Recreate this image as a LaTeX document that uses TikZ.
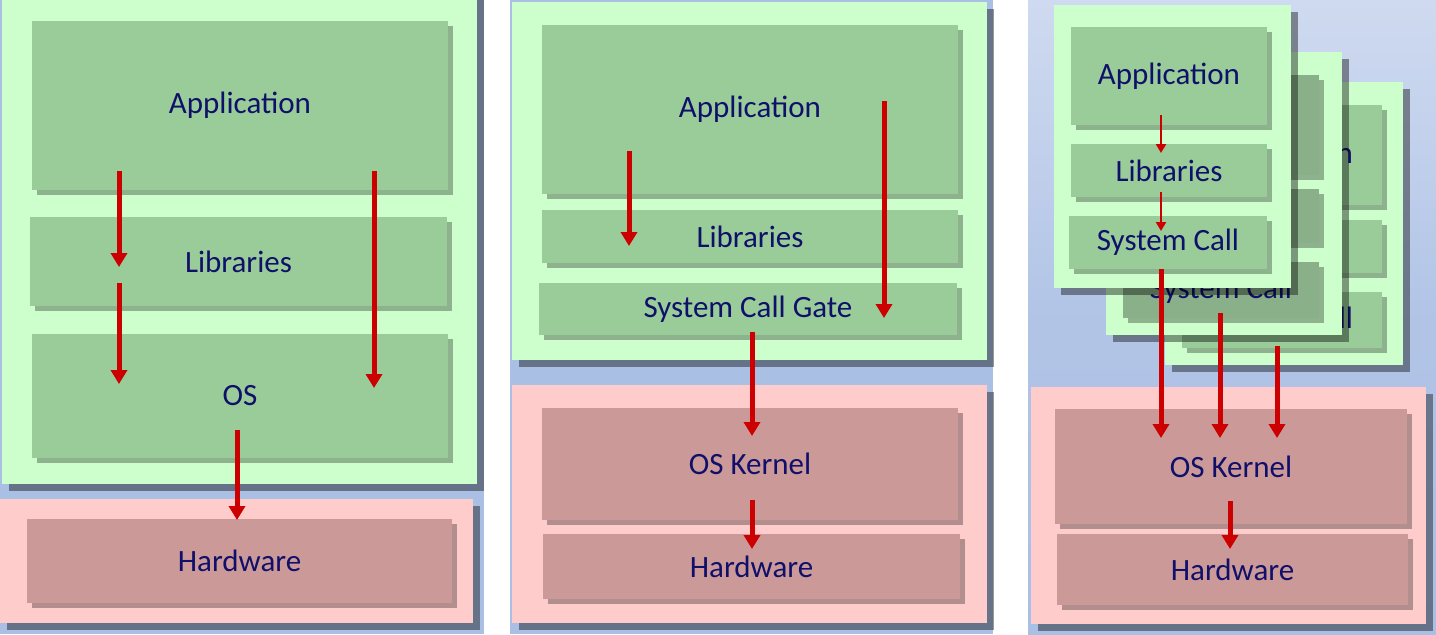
\documentclass[tikz,border=0pt]{standalone}
\usepackage{fontspec}
\setmainfont{Carlito}
\usetikzlibrary{positioning,fit,shadows,arrows.meta}

\definecolor{bgblue}{HTML}{AABFE4}
\definecolor{bgtop}{HTML}{CFDAF0}
\definecolor{appgreen}{HTML}{CCFFCC}
\definecolor{layergreen}{HTML}{99CC99}
\definecolor{dimgreen}{HTML}{89B089}
\definecolor{hwpink}{HTML}{FFCCCC}
\definecolor{layerpink}{HTML}{CC9999}
\definecolor{navy}{HTML}{10106A}
\definecolor{callred}{HTML}{CC0000}

\tikzset{
  outer/.style={inner sep=0pt, outer sep=0pt,
    drop shadow={shadow xshift=3.5pt, shadow yshift=-3.5pt, fill=black, opacity=0.4}},
  userspace/.style={outer, fill=appgreen},
  hwspace/.style={outer, fill=hwpink},
  layer/.style={inner sep=0pt, outer sep=0pt, fill=layergreen,
    drop shadow={shadow xshift=2.5pt, shadow yshift=-2.5pt, fill=black, opacity=0.3}},
  dimlayer/.style={layer, fill=dimgreen},
  hwlayer/.style={layer, fill=layerpink},
  lbl/.style={text=navy, inner sep=0pt, font=\fontsize{15.5}{18}\selectfont},
  call/.style={callred, line width=2.5pt, -{Triangle[width=8pt,length=7pt]}},
  smallcall/.style={callred, line width=1.2pt, -{Triangle[width=5pt,length=4.5pt]}}
}

\begin{document}
\begin{tikzpicture}[x=0.5pt,y=-0.5pt]
\path[use as bounding box] (0,0) rectangle (1436,634);
\clip (0,0) rectangle (1436,634);
\fill[white] (0,0) rectangle (1436,634);

% screens
\fill[bgblue] (0,0) rectangle (484,634);
\fill[bgblue] (510,0) rectangle (993,634);
\shade[top color=bgtop, bottom color=bgblue, middle color=bgblue!80!bgtop] (1028,0) rectangle (1436,634);

% left: library OS
\node[userspace, fit={(2,-10) (477,484)}] (user1) {};
\node[layer, fit={(32,21) (448,190)}, label={[lbl]center:Application}] (app1) {};
\node[layer, fit={(30,217) (447,306)}, label={[lbl]center:Libraries}] (lib1) {};
\node[layer, fit={(32,334) (448,458)}, label={[lbl]center:OS}] (os1) {};
\node[hwspace, fit={(0,499) (473,623)}] (hwbox1) {};
\node[hwlayer, fit={(27,519) (452,603)}, label={[lbl]center:Hardware}] (hw1) {};

\coordinate (a1s) at (119,171);
\coordinate (a1e) at (119,267);
\coordinate (b1s) at (119,283);
\coordinate (b1e) at (119,384);
\coordinate (c1s) at (374,171);
\coordinate (c1e) at (374,388);
\coordinate (d1s) at (237,430);
\coordinate (d1e) at (237,520);
\draw[call] (a1s) -- (a1e);
\draw[call] (b1s) -- (b1e);
\draw[call] (c1s) -- (c1e);
\draw[call] (d1s) -- (d1e);

% middle: kernel with call gate
\node[userspace, fit={(512,2) (987,360)}] (user2) {};
\node[layer, fit={(542,25) (958,194)}, label={[lbl]center:Application}] (app2) {};
\node[layer, fit={(542,210) (958,263)}, label={[lbl]center:Libraries}] (lib2) {};
\node[layer, fit={(539,283) (957,335)}, label={[lbl]center:System Call Gate}] (gate2) {};
\node[hwspace, fit={(512,385) (987,623)}] (hwbox2) {};
\node[hwlayer, fit={(542,408) (958,520)}, label={[lbl]center:OS Kernel}] (kern2) {};
\node[hwlayer, fit={(543,534) (960,599)}, label={[lbl]center:Hardware}] (hw2) {};

\coordinate (a2s) at (629,151);
\coordinate (a2e) at (629,246);
\coordinate (b2s) at (884,101);
\coordinate (b2e) at (884,318);
\coordinate (c2s) at (752,332);
\coordinate (c2e) at (752,436);
\coordinate (d2s) at (752,500);
\coordinate (d2e) at (752,549);
\draw[call] (a2s) -- (a2e);
\draw[call] (b2s) -- (b2e);
\draw[call] (c2s) -- (c2e);
\draw[call] (d2s) -- (d2e);

% right: several processes
\node[userspace, fit={(1165,82) (1403,365)}] (user3c) {};
\node[layer, fit={(1182,105) (1382,205)}, label={[lbl]center:Application}] (app3c) {};
\node[layer, fit={(1182,220) (1382,273)}] (lib3c) {};
\node[layer, fit={(1182,292) (1382,348)}, label={[lbl]center:System Call}] (sys3c) {};

\node[userspace, fit={(1106,52) (1342,335)}] (user3b) {};
\node[dimlayer, fit={(1123,75) (1319,175)}] (app3b) {};
\node[dimlayer, fit={(1123,189) (1319,243)}] (lib3b) {};
\node[dimlayer, fit={(1123,262) (1319,318)}, label={[lbl]center:System Call}] (sys3b) {};

\node[userspace, fit={(1054,5) (1291,288)}] (user3a) {};
\node[layer, fit={(1071,27) (1267,125)}, label={[lbl]center:Application}] (app3a) {};
\node[layer, fit={(1071,144) (1267,197)}, label={[lbl]center:Libraries}] (lib3a) {};
\node[layer, fit={(1069,216) (1267,269)}, label={[lbl]center:System Call}] (sys3a) {};

\node[hwspace, fit={(1031,387) (1426,624)}] (hwbox3) {};
\node[hwlayer, fit={(1055,409) (1407,524)}, label={[lbl]center:OS Kernel}] (kern3) {};
\node[hwlayer, fit={(1057,534) (1408,605)}, label={[lbl]center:Hardware}] (hw3) {};

\coordinate (a3s) at (1161,115);
\coordinate (a3e) at (1161,153);
\coordinate (b3s) at (1161,192);
\coordinate (b3e) at (1161,231);
\coordinate (c3s) at (1161,269);
\coordinate (c3e) at (1161,438);
\coordinate (d3s) at (1220,313);
\coordinate (d3e) at (1220,438);
\coordinate (e3s) at (1277,346);
\coordinate (e3e) at (1277,438);
\coordinate (f3s) at (1230,501);
\coordinate (f3e) at (1230,549);
\draw[smallcall] (a3s) -- (a3e);
\draw[smallcall] (b3s) -- (b3e);
\draw[call] (c3s) -- (c3e);
\draw[call] (d3s) -- (d3e);
\draw[call] (e3s) -- (e3e);
\draw[call] (f3s) -- (f3e);
\end{tikzpicture}
\end{document}
